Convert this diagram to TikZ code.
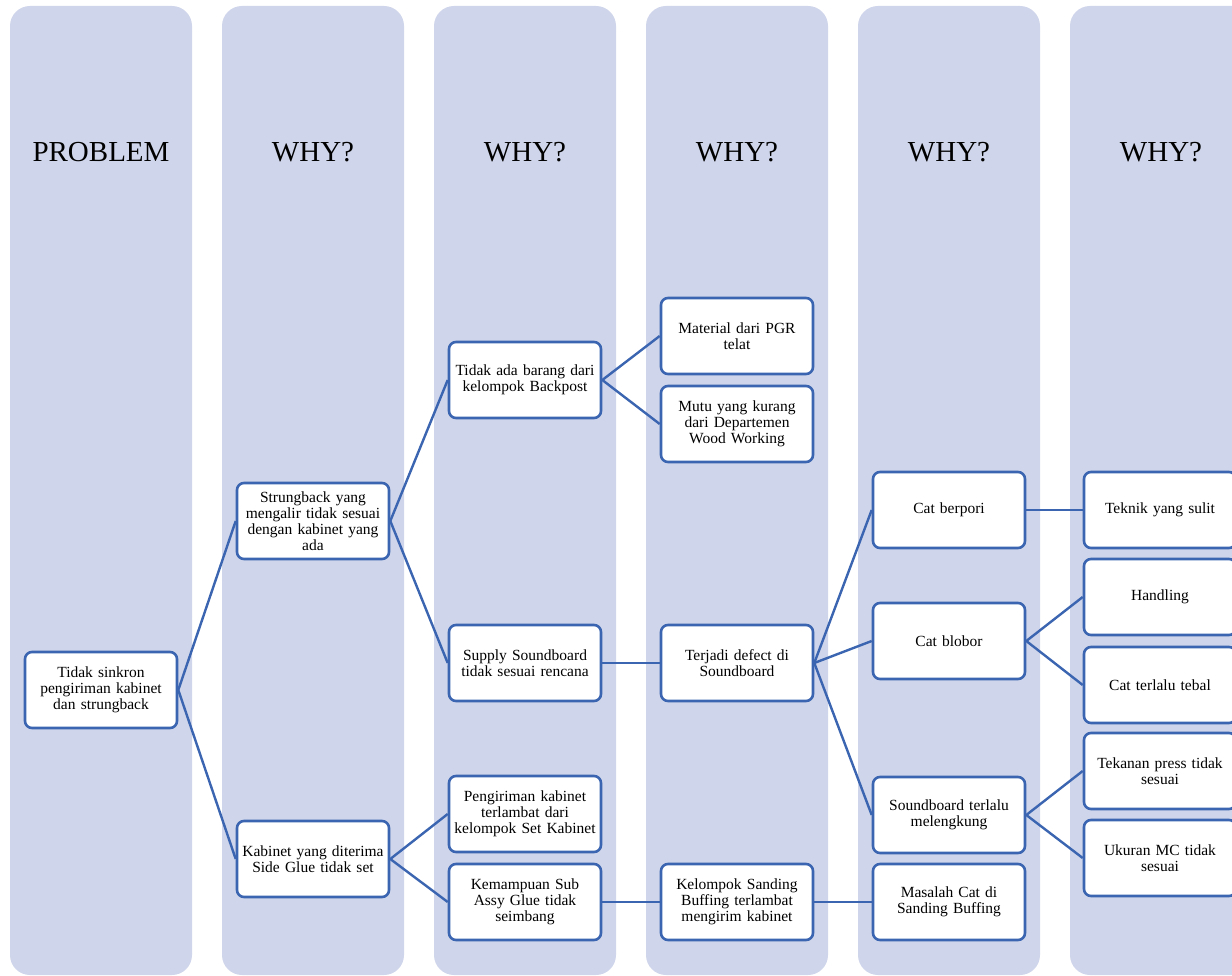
\documentclass[tikz,border=0pt]{standalone}
\usepackage{fontspec}
\setmainfont{Liberation Serif}
\definecolor{bandc}{RGB}{207,213,234}
\definecolor{linec}{RGB}{59,101,176}
\tikzset{
  band/.style={fill=bandc, draw=none, rounded corners=20pt},
  head/.style={font=\fontsize{29}{34}\selectfont, text=black},
  box/.style={draw=linec, line width=2.6pt, rounded corners=7pt, fill=white,
    minimum width=152pt, minimum height=76pt, text width=148pt, inner sep=2pt,
    align=center, font=\fontsize{15.5}{16.2}\selectfont},
  conn/.style={draw=linec, line width=2.4pt}
}
\begin{document}
\begin{tikzpicture}[x=1pt,y=-1pt]
\useasboundingbox (0,0) rectangle (1232,976);
\clip (0,0) rectangle (1232,976);
% bands
\foreach \i in {0,...,5}{
  \fill[band] (10+212*\i,6) rectangle (192+212*\i,975);
}
% headers
\node[head] (h0) at (101,152) {PROBLEM};
\node[head] (h1) at (313,152) {WHY?};
\node[head] (h2) at (525,152) {WHY?};
\node[head] (h3) at (737,152) {WHY?};
\node[head] (h4) at (949,152) {WHY?};
\node[head] (h5) at (1161,152) {WHY?};
% nodes
\node[box] (n0) at (101,690) {Tidak sinkron\\pengiriman kabinet\\dan strungback};
\node[box] (n1a) at (313,521) {Strungback yang\\mengalir tidak sesuai\\dengan kabinet yang\\ada};
\node[box] (n1b) at (313,859) {Kabinet yang diterima\\Side Glue tidak set};
\node[box] (n2a) at (525,380) {Tidak ada barang dari\\kelompok Backpost};
\node[box] (n2b) at (525,663) {Supply Soundboard\\tidak sesuai rencana};
\node[box] (n2c) at (525,814) {Pengiriman kabinet\\terlambat dari\\kelompok Set Kabinet};
\node[box] (n2d) at (525,902) {Kemampuan Sub\\Assy Glue tidak\\seimbang};
\node[box] (n3a) at (737,336) {Material dari PGR\\telat};
\node[box] (n3b) at (737,424) {Mutu yang kurang\\dari Departemen\\Wood Working};
\node[box] (n3c) at (737,663) {Terjadi defect di\\Soundboard};
\node[box] (n3d) at (737,902) {Kelompok Sanding\\Buffing terlambat\\mengirim kabinet};
\node[box] (n4a) at (949,510) {Cat berpori};
\node[box] (n4b) at (949,641) {Cat blobor};
\node[box] (n4c) at (949,815) {Soundboard terlalu\\melengkung};
\node[box] (n4d) at (949,902) {Masalah Cat di\\Sanding Buffing};
\node[box] (n5a) at (1160,510) {Teknik yang sulit};
\node[box] (n5b) at (1160,597) {Handling};
\node[box] (n5c) at (1160,685) {Cat terlalu tebal};
\node[box] (n5d) at (1160,771) {Tekanan press tidak\\sesuai};
\node[box] (n5e) at (1160,858) {Ukuran MC tidak\\sesuai};
% connectors
\draw[conn] (n0.east) -- (n1a.west);
\draw[conn] (n0.east) -- (n1b.west);
\draw[conn] (n1a.east) -- (n2a.west);
\draw[conn] (n1a.east) -- (n2b.west);
\draw[conn] (n1b.east) -- (n2c.west);
\draw[conn] (n1b.east) -- (n2d.west);
\draw[conn] (n2a.east) -- (n3a.west);
\draw[conn] (n2a.east) -- (n3b.west);
\draw[conn] (n2b.east) -- (n3c.west);
\draw[conn] (n2d.east) -- (n3d.west);
\draw[conn] (n3c.east) -- (n4a.west);
\draw[conn] (n3c.east) -- (n4b.west);
\draw[conn] (n3c.east) -- (n4c.west);
\draw[conn] (n3d.east) -- (n4d.west);
\draw[conn] (n4a.east) -- (n5a.west);
\draw[conn] (n4b.east) -- (n5b.west);
\draw[conn] (n4b.east) -- (n5c.west);
\draw[conn] (n4c.east) -- (n5d.west);
\draw[conn] (n4c.east) -- (n5e.west);
\end{tikzpicture}
\end{document}
